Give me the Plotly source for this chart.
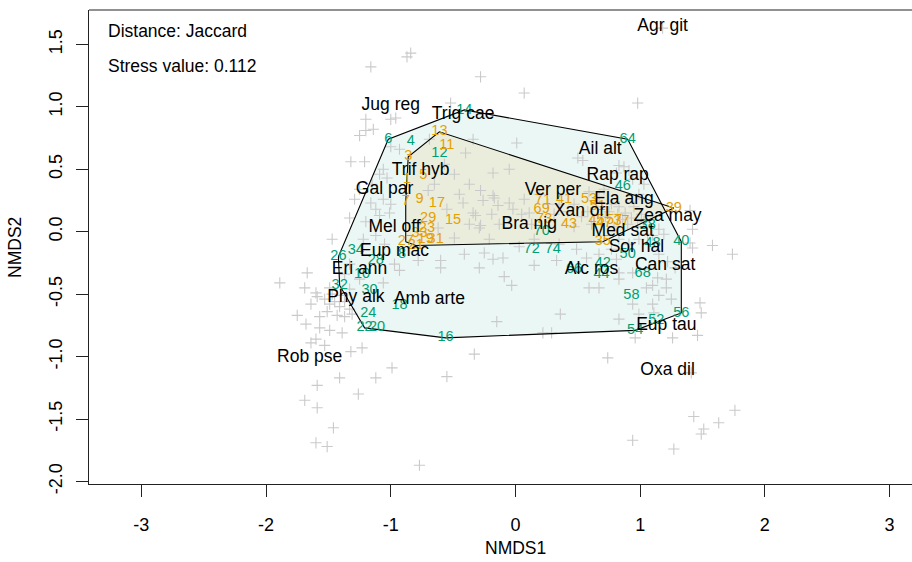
import plotly.graph_objects as go

FONT = "Liberation Sans, Arial, Helvetica, sans-serif"

# species scores (black labels)
species = ["Agr git", "Jug reg", "Trig cae", "Ail alt", "Rap rap", "Trif hyb", "Gal par",
           "Ver per", "Ela ang", "Xan ori", "Zea may", "Bra nig", "Mel off", "Med sat",
           "Eup mac", "Sor hal", "Eri ann", "Can sat", "Alc ros", "Phy alk", "Amb arte",
           "Eup tau", "Rob pse", "Oxa dil"]
species_x = [1.18, -1.00, -0.42, 0.68, 0.82, -0.76, -1.05, 0.30, 0.87, 0.53, 1.22, 0.11,
             -0.97, 0.86, -0.97, 0.97, -1.25, 1.20, 0.61, -1.28, -0.69, 1.21, -1.65, 1.22]
species_y = [1.64, 1.01, 0.94, 0.66, 0.45, 0.49, 0.34, 0.33, 0.26, 0.16, 0.12, 0.06,
             0.03, 0.00, -0.16, -0.13, -0.30, -0.27, -0.30, -0.53, -0.54, -0.75, -1.01, -1.11]

# sites of group A (green, even)
siteA = ["6", "4", "14", "12", "64", "46", "70", "72", "74", "40", "48", "38", "50", "42",
         "44", "66", "68", "58", "56", "54", "52", "16", "20", "22", "24", "18", "30", "32",
         "26", "34", "28", "10", "8"]
siteA_x = [-1.02, -0.84, -0.41, -0.61, 0.90, 0.86, 0.21, 0.13, 0.30, 1.33, 1.10, 1.06, 0.90, 0.70,
           0.69, 0.47, 1.02, 0.93, 1.33, 0.96, 1.13, -0.56, -1.11, -1.21, -1.18, -0.93, -1.17, -1.41,
           -1.42, -1.28, -1.12, -1.23, -0.91]
siteA_y = [0.74, 0.72, 0.975, 0.63, 0.74, 0.36, 0.00, -0.14, -0.14, -0.08, -0.09, 0.05, -0.18, -0.25,
           -0.34, -0.30, -0.33, -0.51, -0.65, -0.79, -0.71, -0.85, -0.77, -0.77, -0.65, -0.59, -0.47, -0.43,
           -0.20, -0.15, -0.23, -0.34, -0.18]

# sites of group B (orange, odd)
siteB = ["13", "11", "3", "5", "1", "7", "9", "17", "29", "15", "23", "27", "21", "19", "31", "33",
         "71", "41", "53", "69", "73", "43", "45", "47", "57", "37", "35", "39", "51"]
siteB_x = [-0.61, -0.55, -0.86, -0.74, -0.87, -0.88, -0.77, -0.63, -0.70, -0.50, -0.71, -0.88, -0.80, -0.72,
           -0.64, -0.77, 0.22, 0.39, 0.59, 0.21, 0.23, 0.43, 0.65, 0.71, 0.79, 0.85, 0.70, 1.27, 0.66]
siteB_y = [0.80, 0.69, 0.60, 0.45, 0.42, 0.24, 0.26, 0.23, 0.11, 0.09, 0.03, -0.08, -0.11, -0.06,
           -0.06, -0.01, 0.25, 0.26, 0.26, 0.18, 0.10, 0.06, 0.09, 0.07, 0.09, 0.08, -0.08, 0.19, 0.20]

# grey crosses
pts_x = [-0.84, -0.87, -1.16, -0.28, 0.07, 0.98, -0.52, -1.20, -1.00, -0.96, -1.14, -1.20, -1.25, -0.69,
         -0.34, -0.40, -0.93, -1.00, -1.32, -1.21, -1.06, -1.09, -1.03, -0.18, -0.05, 0.01, 0.50, 0.54,
         0.83, 0.91, 0.81, 0.87, -0.65, -0.70, -0.28, -0.17, -0.26, -0.42, -0.18, -0.14, -0.05, -0.02,
         -0.34, -0.28, -0.19, 0.05, 0.11, 0.13, -1.16, -1.06, -1.00, -1.01, -1.12, -1.33, -1.20, -1.09,
         -0.32, -0.29, -0.62, -0.49, -1.47, -1.22, -1.12, -0.41, -0.25, -0.18, -0.10, -0.60, -0.60, -0.29,
         -0.93, -0.78, -1.67, -1.89, -1.69, -1.60, -1.49, -1.06, -0.09,
         -1.53, -1.49, -1.45, -1.41, -1.37, -1.33, -1.51, -1.43, -1.37, -1.31, -1.47, -1.40, -1.57, -1.64,
         -1.75, -1.68, -1.57, -1.49, -1.39, -1.60, -1.53, -1.64, -1.32, -1.23, -0.15, -0.33, -0.99, -1.41,
         -1.12, -0.55, -1.59, -1.26, -1.69, -1.59, -1.46, -1.60, -1.51, -0.77,
         -0.21, 0.15, 0.33, 0.49, 0.57, 0.81, 0.83, 0.94, 1.07, 1.14, 1.21, 1.10, 1.05, 1.15, 1.21, 0.59,
         0.67, -0.03, 0.83, 0.94, 1.10, 0.36, 1.48, 1.49, 0.22, 0.29, 1.11, 0.96, 1.26, 1.46, 0.74, 1.41,
         1.43, 1.76, 1.63, 1.51, 1.49, 0.94, 1.27, 1.18, 1.40, 1.10, 1.15, 1.19, 1.42, 1.40, 1.42, 1.58, 1.74,
         0.35, 0.42, 0.47, 0.53, 0.58, 0.61, 0.66, 0.69, 0.72, 0.75, 0.77, 0.79, 0.82, 0.83, 0.86, 0.88,
         0.90, 0.93, 0.95, 0.98, 1.01, 1.03, 1.06, 0.99, 0.91, 0.83, 0.77, 0.67, 0.59, 0.71, 0.99, 1.03,
         0.94, 0.47, 0.31, 0.26, 0.19, 0.07, 0.15, 0.03, 0.35, 0.67, 1.15, 1.22, 1.28, 1.25, 0.99, 0.83,
         -0.57, -0.49, -0.37, -0.45, -0.55, -0.37, -0.13, -1.25, -1.15, -1.29, -0.97, -1.05, -1.33, -1.25,
         -1.37, -1.59, -1.33]
pts_y = [1.43, 1.40, 1.32, 1.24, 1.11, 1.03, 1.03, 0.90, 0.90, 0.91, 0.82, 0.81, 0.77, 0.74,
         0.74, 0.63, 0.66, 0.68, 0.56, 0.56, 0.50, 0.46, 0.43, 0.47, 0.50, 0.71, 0.59, 0.57,
         0.53, 0.49, 0.47, 0.52, 0.38, 0.33, 0.33, 0.27, 0.25, 0.23, 0.29, 0.21, 0.23, 0.18,
         0.15, 0.05, 0.14, 0.14, 0.15, 0.06, 0.23, 0.26, 0.22, 0.15, 0.18, 0.11, 0.08, 0.13,
         0.13, 0.03, 0.03, -0.05, -0.06, -0.06, -0.03, -0.18, -0.17, -0.22, -0.21, -0.23, -0.29, -0.29,
         -0.31, -0.23, -0.33, -0.41, -0.45, -0.49, -0.45, -0.41, -0.36,
         -0.54, -0.58, -0.56, -0.60, -0.56, -0.62, -0.64, -0.67, -0.68, -0.66, -0.50, -0.51, -0.68, -0.58,
         -0.67, -0.74, -0.77, -0.79, -0.81, -0.86, -0.91, -0.89, -0.96, -0.93, -0.72, -0.98, -1.09, -1.17,
         -1.17, -1.16, -1.23, -1.30, -1.35, -1.41, -1.57, -1.69, -1.72, -1.87,
         -0.06, -0.27, -0.23, -0.14, -0.21, -0.22, -0.33, -0.33, -0.30, -0.37, -0.38, -0.43, -0.45, -0.51, -0.45, -0.45,
         -0.45, -0.43, -0.38, -0.58, -0.58, -0.66, -0.57, -0.65, -0.81, -0.81, -0.65, -0.85, -0.85, -0.83, -1.01, -1.13,
         -1.48, -1.43, -1.53, -1.58, -1.62, -1.67, -1.74, 1.63, 0.17, -0.03, 0.02, -0.02, 0.02, -0.09, -0.13, -0.11, -0.18,
         0.22, 0.16, 0.22, 0.12, 0.16, 0.06, 0.14, 0.20, 0.12, 0.16, 0.22, 0.04, 0.14, 0.20, 0.10, 0.15,
         0.06, 0.11, 0.20, 0.04, 0.14, 0.08, -0.02, -0.06, -0.10, -0.06, -0.14, 0.28, 0.32, 0.34, 0.30, 0.38,
         0.42, 0.04, 0.14, 0.22, 0.30, 0.26, -0.06, -0.12, -0.10, -0.18, -0.18, -0.24, -0.29, -0.54, -0.66, -0.70,
         0.54, 0.46, 0.38, 0.30, 0.18, 0.06, 0.06, 0.34, 0.38, 0.26, -0.26, -0.10, -0.26, -0.38,
         -0.34, -0.52, -0.46]

x_ticks = [-3, -2, -1, 0, 1, 2, 3]
y_ticks = [-2.0, -1.5, -1.0, -0.5, 0.0, 0.5, 1.0, 1.5]
y_tick_text = ["-2.0", "-1.5", "-1.0", "-0.5", "0.0", "0.5", "1.0", "1.5"]

GREEN = "#009E73"
ORANGE = "#E69F00"


def hull(xs, ys):
    p = sorted(set(zip(xs, ys)))

    def cross(o, a, b):
        return (a[0] - o[0]) * (b[1] - o[1]) - (a[1] - o[1]) * (b[0] - o[0])

    lower, upper = [], []
    for q in p:
        while len(lower) >= 2 and cross(lower[-2], lower[-1], q) <= 0:
            lower.pop()
        lower.append(q)
    for q in reversed(p):
        while len(upper) >= 2 and cross(upper[-2], upper[-1], q) <= 0:
            upper.pop()
        upper.append(q)
    h = lower[:-1] + upper[:-1]
    h.append(h[0])
    return [a for a, _ in h], [b for _, b in h]


fig = go.Figure()

hxA, hyA = hull(siteA_x, siteA_y)
hxB, hyB = hull(siteB_x, siteB_y)

fig.add_trace(go.Scatter(x=hxA, y=hyA, mode="lines", fill="toself",
                         fillcolor="rgba(0,158,115,0.08)", line=dict(color="rgba(0,0,0,0)", width=0),
                         hoverinfo="skip"))
fig.add_trace(go.Scatter(x=hxB, y=hyB, mode="lines", fill="toself",
                         fillcolor="rgba(230,159,0,0.10)", line=dict(color="rgba(0,0,0,0)", width=0),
                         hoverinfo="skip"))

fig.add_trace(go.Scatter(x=pts_x, y=pts_y, mode="markers",
                         marker=dict(symbol="cross-thin", size=8, color="#CACACA",
                                     line=dict(color="#CACACA", width=1.1)),
                         hoverinfo="skip"))

for hx, hy in [(hxA, hyA), (hxB, hyB)]:
    fig.add_trace(go.Scatter(x=hx, y=hy, mode="lines", line=dict(color="black", width=1.1),
                             hoverinfo="skip"))

fig.add_trace(go.Scatter(x=siteA_x, y=siteA_y, mode="text", text=siteA,
                         textfont=dict(family=FONT, size=14.5, color=GREEN), hoverinfo="skip"))
fig.add_trace(go.Scatter(x=siteB_x, y=siteB_y, mode="text", text=siteB,
                         textfont=dict(family=FONT, size=14.5, color=ORANGE), hoverinfo="skip"))
fig.add_trace(go.Scatter(x=species_x, y=species_y, mode="text", text=species,
                         textfont=dict(family=FONT, size=17.5, color="black"), hoverinfo="skip"))

fig.update_layout(
    width=912, height=562,
    margin=dict(l=89, r=0, t=10, b=78),
    paper_bgcolor="white", plot_bgcolor="white",
    showlegend=False,
    font=dict(family=FONT, color="black"),
    xaxis=dict(range=[-3.42, 3.18], tickvals=x_ticks, ticktext=[str(v) for v in x_ticks],
               showgrid=False, zeroline=False, showline=True, linecolor="#222", linewidth=1,
               ticks="outside", ticklen=12, tickcolor="#222", tickfont=dict(size=18),
               ticklabelstandoff=12),
    yaxis=dict(range=[-2.02, 1.775], tickvals=y_ticks, ticktext=y_tick_text,
               showgrid=False, zeroline=False, showline=True, linecolor="#222", linewidth=1,
               ticks="outside", ticklen=12, tickcolor="#222", tickfont=dict(size=18),
               tickangle=-90, ticklabelstandoff=7),
    shapes=[dict(type="line", xref="paper", yref="paper", x0=0, x1=1, y0=1, y1=1,
                 line=dict(color="#222", width=1))],
    annotations=[
        dict(text="NMDS1", x=0, xref="x", y=-0.135, yref="paper", showarrow=False,
             font=dict(size=17.5), xanchor="center", yanchor="middle"),
        dict(text="NMDS2", x=-0.09, xref="paper", y=0.5, yref="paper", showarrow=False,
             font=dict(size=17.5), textangle=-90, xanchor="center", yanchor="middle"),
        dict(text="Distance: Jaccard", x=0.0207, xref="paper", y=0.9557, yref="paper",
             showarrow=False, font=dict(size=17.5), xanchor="left", yanchor="middle"),
        dict(text="Stress value: 0.112", x=0.0207, xref="paper", y=0.8819, yref="paper",
             showarrow=False, font=dict(size=17.5), xanchor="left", yanchor="middle"),
    ],
)

fig.write_html("out.html")
